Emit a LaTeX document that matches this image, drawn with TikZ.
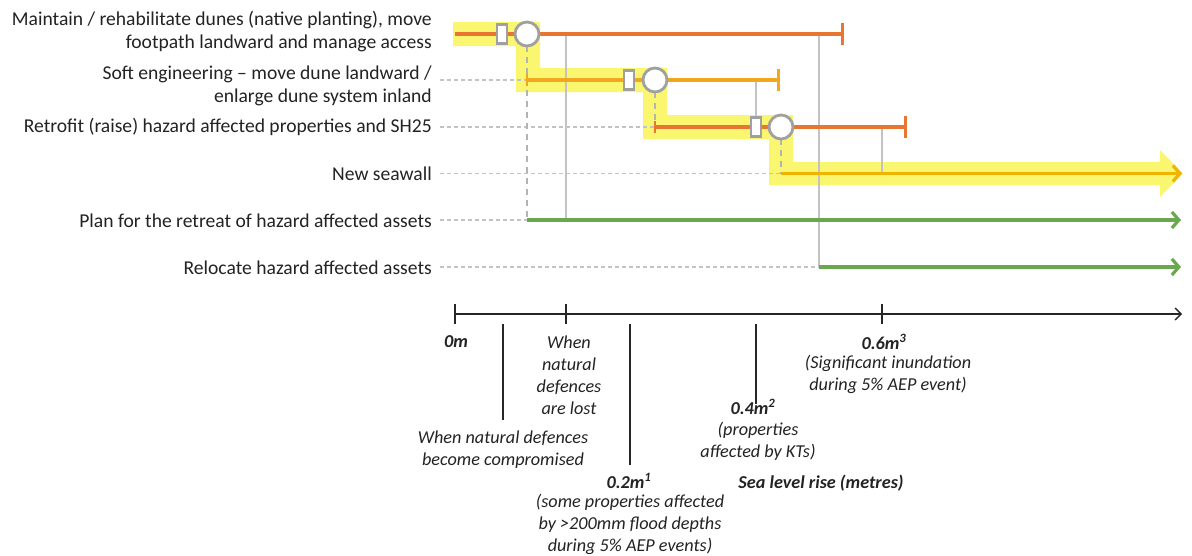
\documentclass[tikz,border=0pt]{standalone}
\usepackage{fontspec}
\setmainfont{Carlito}
\usetikzlibrary{arrows.meta}
\definecolor{hl}{RGB}{250,246,112}
\definecolor{orng}{RGB}{232,118,48}
\definecolor{amber}{RGB}{242,168,30}
\definecolor{gold}{RGB}{240,180,0}
\definecolor{grn}{RGB}{106,168,79}
\definecolor{gry}{RGB}{160,160,160}
\definecolor{lgry}{RGB}{195,195,195}
\definecolor{txt}{RGB}{35,35,35}
\tikzset{
  lbl/.style={anchor=east, align=right, text=txt, font=\fontsize{19.6}{23}\selectfont, inner sep=0pt},
  axl/.style={align=center, text=txt, font=\itshape\fontsize{18.2}{22}\selectfont, inner sep=0pt},
  axv/.style={text=txt, font=\bfseries\itshape\fontsize{18.2}{22}\selectfont, inner sep=0pt},
  gatebox/.style={draw=gry, line width=2.8pt, fill=white, minimum width=10pt, minimum height=19pt, inner sep=0pt},
  gatecirc/.style={circle, draw=gry, line width=2.8pt, fill=white, minimum size=24pt, inner sep=0pt},
  pline/.style={line width=3.2pt},
  endbar/.style={line width=3pt},
  lead/.style={draw=lgry, line width=1.1pt, dash pattern=on 4pt off 3pt},
  vgry/.style={draw=lgry, line width=2.2pt},
  vdash/.style={draw=gry!80, line width=1.6pt, dash pattern=on 6pt off 5pt},
  grarrow/.style={draw=grn, line width=3.8pt, -{Straight Barb[length=7pt,width=16pt,line width=3.2pt]}},
  tick/.style={draw=black!85, line width=1.5pt}
}
\begin{document}
\begin{tikzpicture}[x=1pt,y=-1pt]
\useasboundingbox[fill=white] (0,0) rectangle (1192,555);
% highlight band
\fill[hl] (453,22) -- (540,22) -- (540,68) -- (667,68) -- (667,115) -- (793,115) -- (793,162)
  -- (1160,162) -- (1160,150) -- (1183,173.5) -- (1160,197) -- (1160,185) -- (769,185)
  -- (769,139) -- (643,139) -- (643,92) -- (516,92) -- (516,46) -- (453,46) -- cycle;

% labels
\node[lbl] (l1) at (432,32) {Maintain / rehabilitate dunes (native planting), move\\footpath landward and manage access};
\node[lbl] (l2) at (432,86) {Soft engineering -- move dune landward /\\enlarge dune system inland};
\node[lbl] (l3) at (432,127) {Retrofit (raise) hazard affected properties and SH25};
\node[lbl] (l4) at (432,174) {New seawall};
\node[lbl] (l5) at (432,221) {Plan for the retreat of hazard affected assets};
\node[lbl] (l6) at (432,268) {Relocate hazard affected assets};

% coordinates
\coordinate (r1s) at (455,34); \coordinate (r1e) at (842,34);
\coordinate (r2s) at (527,80); \coordinate (r2e) at (778,80);
\coordinate (r3s) at (655,127); \coordinate (r3e) at (905,127);
\coordinate (r4s) at (781,173.5); \coordinate (r4e) at (1182,173.5);
\coordinate (r5s) at (527,220); \coordinate (r5e) at (1181,220);
\coordinate (r6s) at (819,267); \coordinate (r6e) at (1181,267);

% leaders
\draw[lead] (440,80) -- (r2s);
\draw[lead] (440,127) -- (r3s);
\draw[lead] (440,173.5) -- (r4s);
\draw[lead] (440,220) -- (r5s);
\draw[lead] (440,267) -- (r6s);

% grey verticals
\coordinate (v1t) at (566,34); \coordinate (v1b) at (566,220);
\coordinate (v2t) at (819,34); \coordinate (v2b) at (819,267);
\coordinate (v3t) at (756,80); \coordinate (v3b) at (756,127);
\coordinate (v4t) at (882,127); \coordinate (v4b) at (882,173.5);
\draw[vgry] (v1t) -- (v1b);
\draw[vgry] (v2t) -- (v2b);
\draw[vgry] (v3t) -- (v3b);
\draw[vgry] (v4t) -- (v4b);

% dashed verticals
\draw[vdash] (527,46) -- (r5s);
\draw[vdash] (655,92) -- (r3s);
\draw[vdash] (781,139) -- (r4s);

% pathway lines
\draw[pline, draw=orng] (r1s) -- (r1e);
\draw[endbar, draw=orng] ([yshift=-11pt]r1e) -- ([yshift=11pt]r1e);
\draw[pline, draw=amber] (r2s) -- (r2e);
\draw[endbar, draw=amber] ([yshift=-11pt]r2e) -- ([yshift=11pt]r2e);
\draw[line width=1.6pt, draw=amber] ([yshift=-6pt]r2s) -- ([yshift=6pt]r2s);
\draw[pline, draw=orng] (r3s) -- (r3e);
\draw[endbar, draw=orng] ([yshift=-11pt]r3e) -- ([yshift=11pt]r3e);
\draw[line width=1.6pt, draw=orng] ([yshift=-6pt]r3s) -- ([yshift=6pt]r3s);
\draw[draw=gold, line width=3.6pt, -{Straight Barb[length=7pt,width=16pt,line width=3.2pt]}] (r4s) -- (r4e);
\draw[grarrow] (r5s) -- (r5e);
\draw[grarrow] (r6s) -- (r6e);

% gates
\node[gatebox] (b1) at (502,34) {};
\node[gatecirc] (c1) at (527,34) {};
\node[gatebox] (b2) at (629,80) {};
\node[gatecirc] (c2) at (655,80) {};
\node[gatebox] (b3) at (756,127) {};
\node[gatecirc] (c3) at (781,127) {};

% axis
\coordinate (a0) at (455,314); \coordinate (aend) at (1182,314);
\draw[draw=black!85, line width=1.5pt, -{Straight Barb[length=6pt,width=12pt,line width=1.3pt]}] (a0) -- (aend);
\coordinate (t0) at (455,314); \coordinate (t1) at (503,314); \coordinate (t2) at (566,314);
\coordinate (t3) at (630,314); \coordinate (t4) at (756,314); \coordinate (t5) at (882,314);
\draw[tick] ([yshift=-10pt]t0) -- ([yshift=10pt]t0);
\draw[tick] ([yshift=-10pt]t1) -- (503,420);
\draw[tick] ([yshift=-10pt]t2) -- ([yshift=10pt]t2);
\draw[tick] ([yshift=-10pt]t3) -- (630,465);
\draw[tick] ([yshift=-10pt]t4) -- (756,404);
\draw[tick] ([yshift=-10pt]t5) -- ([yshift=10pt]t5);

% axis labels
\node[axv] (n0) at (456,342) {0m};
\node[axl] (n2) at (569,375) {When\\natural\\defences\\are lost};
\node[axl] (n1) at (503,450) {When natural defences\\become compromised};
\node[axv] (n3v) at (629,481) {0.2m\textsuperscript{1}};
\node[axl] (n3) at (630,524) {(some properties affected\\by >200mm flood depths\\during 5\% AEP events)};
\node[axv] (n4v) at (753,407) {0.4m\textsuperscript{2}};
\node[axl] (n4) at (758,441) {(properties\\affected by KTs)};
\node[axv] (n5v) at (884,342) {0.6m\textsuperscript{3}};
\node[axl] (n5) at (888,374) {(Significant inundation\\during 5\% AEP event)};
\node[axv] (ttl) at (821,483) {Sea level rise (metres)};
\end{tikzpicture}
\end{document}
